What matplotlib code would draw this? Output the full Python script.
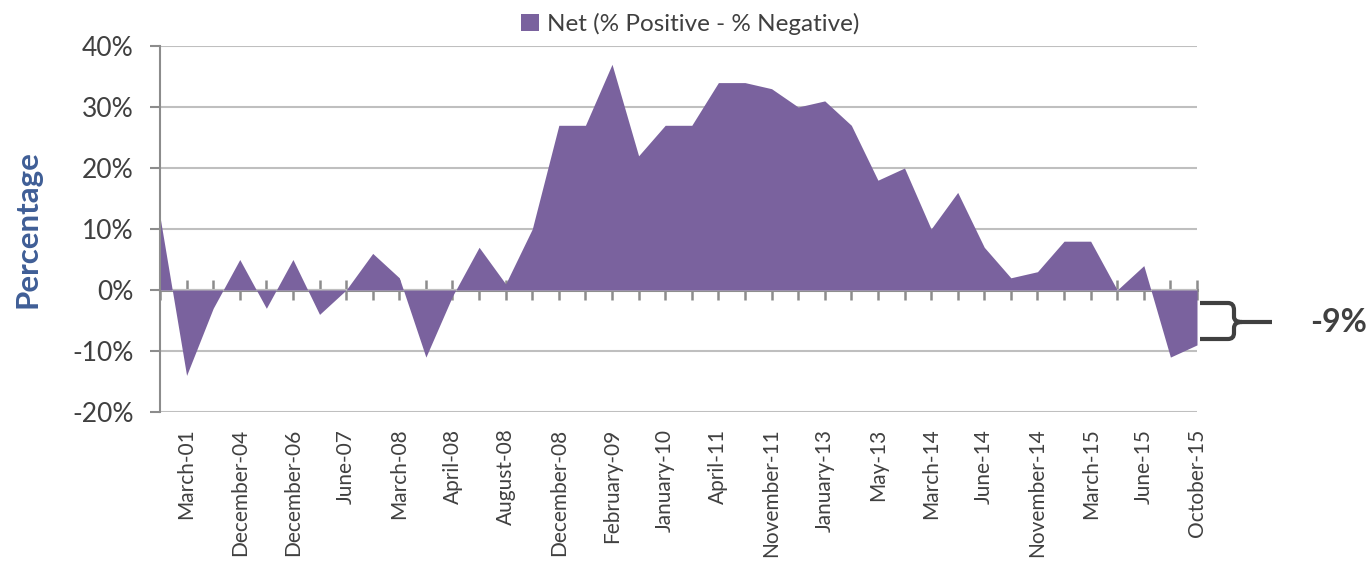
"""
Net sentiment area chart (% Positive - % Negative)
"""

import numpy as np
import matplotlib.pyplot as plt
from matplotlib.path import Path
from matplotlib.patches import PathPatch

plt.rcParams['font.family'] = ['Lato', 'DejaVu Sans']

# Data: one value per survey wave (%), labels shown on every second wave
Net_Values = [12, -14, -3, 5, -3, 5, -4, 0, 6, 2,
              -11, -1, 7, 1, 10, 27, 27, 37, 22, 27,
              27, 34, 34, 33, 30, 31, 27, 18, 20, 10,
              16, 7, 2, 3, 8, 8, 0, 4, -11, -9]
Tick_Labels = ['March-01', 'December-04', 'December-06', 'June-07', 'March-08',
               'April-08', 'August-08', 'December-08', 'February-09', 'January-10',
               'April-11', 'November-11', 'January-13', 'May-13', 'March-14',
               'June-14', 'November-14', 'March-15', 'June-15', 'October-15']
Y_Ticks = [-20, -10, 0, 10, 20, 30, 40]
Last_Label = '-9%'

Fill_Color = '#7A629E'
Text_Color = '#404040'
Grid_Color = '#BFBFBF'
Axis_Color = '#8C8C8C'

W, H = 1370, 563
fig = plt.figure(figsize=(W / 100, H / 100), dpi=100)
ax = fig.add_axes([160 / W, 1 - 412 / H, (1197 - 160) / W, (412 - 46) / H])

x = np.arange(len(Net_Values))
ax.fill_between(x, 0, Net_Values, color=Fill_Color, linewidth=0,
                label='Net (% Positive - % Negative)', zorder=2)

# Axes limits and grid
ax.set_xlim(0, len(Net_Values) - 1)
ax.set_ylim(min(Y_Ticks), max(Y_Ticks))
ax.set_yticks(Y_Ticks)
ax.set_yticklabels(['{}%'.format(v) for v in Y_Ticks])
ax.yaxis.grid(True, color=Grid_Color, linewidth=1.5, zorder=0)
ax.set_axisbelow(True)
for s in ['top', 'right', 'bottom']:
	ax.spines[s].set_visible(False)
ax.spines['left'].set_color(Axis_Color)
ax.spines['left'].set_linewidth(1.5)
ax.tick_params(axis='y', colors=Axis_Color, length=7, width=1.5, pad=12,
               labelsize=19, labelcolor=Text_Color)

# Category labels at the bottom
ax.set_xticks(x[1::2])
ax.set_xticklabels(Tick_Labels, rotation=90)
ax.tick_params(axis='x', length=0, pad=12, labelsize=15, labelcolor=Text_Color)

# Category axis at 0 with tick marks on every wave
sec = ax.secondary_xaxis((0 - Y_Ticks[0]) / (Y_Ticks[-1] - Y_Ticks[0]))
sec.set_xticks(x)
sec.set_xticklabels([])
sec.tick_params(axis='x', direction='inout', length=15, width=1.8, colors=Axis_Color)
sec.spines['bottom'].set_color(Axis_Color)
sec.spines['bottom'].set_linewidth(2.2)
for s in ['top', 'left', 'right']:
	sec.spines[s].set_visible(False)

ax.set_ylabel('Percentage', fontsize=22.5, fontweight='bold', color='#3F5E96')
ax.yaxis.set_label_coords((42 - 160) / (1197 - 160), 0.5)

# Legend
leg = fig.legend(loc='center', bbox_to_anchor=(690 / W, 1 - 24 / H), frameon=False,
                 fontsize=17.5, handlelength=0.75, handleheight=0.75, handletextpad=0.3,
                 labelcolor=Text_Color)

# Bracket annotation for the last value
def px(xp, yp):
	return (xp / W, 1 - yp / H)

verts = [px(1200, 303), px(1228, 303), px(1234, 303), px(1234, 310),
         px(1234, 317), px(1234, 322), px(1242, 322),
         px(1272, 322),
         px(1242, 322), px(1234, 322), px(1234, 328),
         px(1234, 333), px(1234, 339), px(1228, 339),
         px(1200, 339)]
codes = [Path.MOVETO, Path.LINETO, Path.CURVE3, Path.CURVE3,
         Path.LINETO, Path.CURVE3, Path.CURVE3,
         Path.LINETO,
         Path.MOVETO, Path.CURVE3, Path.CURVE3,
         Path.LINETO, Path.CURVE3, Path.CURVE3,
         Path.LINETO]
fig.patches.append(PathPatch(Path(verts, codes), transform=fig.transFigure,
                             fill=False, edgecolor='#404040', linewidth=3))
fig.text(1339 / W, 1 - 323 / H, Last_Label, ha='center', va='center',
         fontsize=23, fontweight='bold', color=Text_Color)

plt.savefig('out.png', dpi=100)
plt.close('all')
